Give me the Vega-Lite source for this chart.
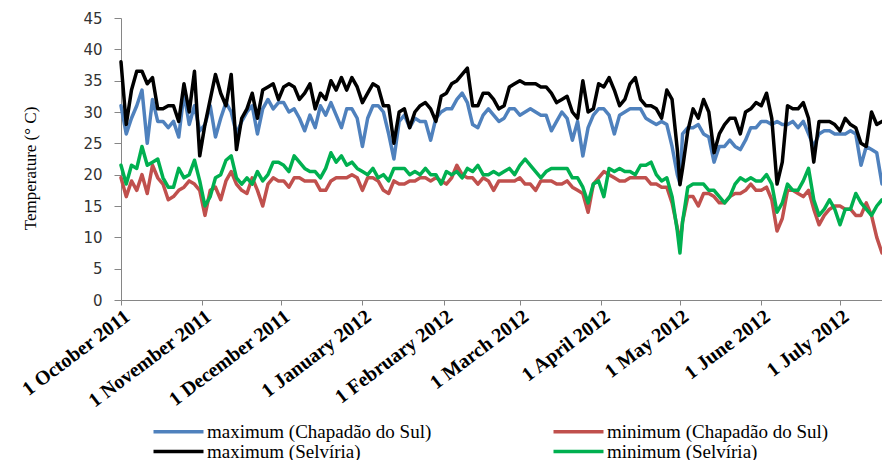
{
"$schema": "https://vega.github.io/schema/vega-lite/v6.json",
"width": 761, "height": 282,
"autosize": {"type": "none"},
"padding": {"left": 121, "top": 18, "right": 0, "bottom": 160},
"background": "white",
"config": {"view": {"stroke": null}},
"data": {"values": [
{"d":"2011-10-01","a":31,"b":19.5,"c":38,"e":21.5},
{"d":"2011-10-03","a":26.5,"b":16.5,"c":28,"e":18.5},
{"d":"2011-10-05","a":29,"b":19,"c":33.5,"e":21.5},
{"d":"2011-10-07","a":31,"b":17.5,"c":36.5,"e":21},
{"d":"2011-10-09","a":33.5,"b":20,"c":36.5,"e":24.5},
{"d":"2011-10-11","a":25,"b":17,"c":34.5,"e":21.5},
{"d":"2011-10-13","a":32,"b":21.5,"c":35.5,"e":22},
{"d":"2011-10-15","a":28.5,"b":19.5,"c":30.5,"e":22.5},
{"d":"2011-10-17","a":28.5,"b":18.5,"c":30.5,"e":19.5},
{"d":"2011-10-19","a":27.5,"b":16,"c":31,"e":18},
{"d":"2011-10-21","a":28.5,"b":16.5,"c":31,"e":18},
{"d":"2011-10-23","a":26,"b":17.5,"c":28.5,"e":21},
{"d":"2011-10-25","a":33,"b":18,"c":34.5,"e":19.5},
{"d":"2011-10-27","a":28,"b":19,"c":30,"e":20},
{"d":"2011-10-29","a":31,"b":18.5,"c":36.5,"e":22.3},
{"d":"2011-10-31","a":27,"b":17.5,"c":23,"e":19},
{"d":"2011-11-02","a":28,"b":13.5,"c":28,"e":15},
{"d":"2011-11-04","a":31,"b":17.5,"c":32,"e":16.5},
{"d":"2011-11-06","a":26,"b":18,"c":36,"e":19.5},
{"d":"2011-11-08","a":29,"b":16,"c":33,"e":20},
{"d":"2011-11-10","a":31.5,"b":19,"c":31,"e":22.3},
{"d":"2011-11-12","a":30,"b":20.5,"c":36,"e":23},
{"d":"2011-11-14","a":26.5,"b":18.5,"c":24,"e":19.5},
{"d":"2011-11-16","a":28.5,"b":17.5,"c":29,"e":18.5},
{"d":"2011-11-18","a":30,"b":17,"c":30.5,"e":19.5},
{"d":"2011-11-20","a":31,"b":19.5,"c":33,"e":18.5},
{"d":"2011-11-22","a":26.5,"b":17.5,"c":29,"e":20.5},
{"d":"2011-11-24","a":30.5,"b":15,"c":33.5,"e":19},
{"d":"2011-11-26","a":32,"b":18.5,"c":34,"e":20},
{"d":"2011-11-28","a":30.5,"b":19.5,"c":34.5,"e":22},
{"d":"2011-11-30","a":31.5,"b":19,"c":32,"e":22},
{"d":"2011-12-02","a":31.5,"b":19,"c":34,"e":21.5},
{"d":"2011-12-04","a":30,"b":18,"c":34.5,"e":20.5},
{"d":"2011-12-06","a":30.5,"b":19.5,"c":34,"e":23},
{"d":"2011-12-08","a":29,"b":19.5,"c":32,"e":22},
{"d":"2011-12-10","a":27,"b":19,"c":33,"e":21},
{"d":"2011-12-12","a":29.5,"b":19,"c":34.5,"e":20.5},
{"d":"2011-12-14","a":27.5,"b":19,"c":30.5,"e":20.5},
{"d":"2011-12-16","a":31,"b":17.5,"c":33,"e":19.5},
{"d":"2011-12-18","a":29.5,"b":17.5,"c":32,"e":21},
{"d":"2011-12-20","a":31.5,"b":19,"c":35,"e":23.5},
{"d":"2011-12-22","a":29.5,"b":19.5,"c":33.5,"e":22},
{"d":"2011-12-24","a":27.5,"b":19.5,"c":35.5,"e":23},
{"d":"2011-12-26","a":30.5,"b":19.5,"c":33.5,"e":21.5},
{"d":"2011-12-28","a":30.5,"b":20,"c":35.5,"e":22},
{"d":"2011-12-30","a":29,"b":19.5,"c":34,"e":21},
{"d":"2012-01-01","a":24.5,"b":17.5,"c":31.5,"e":20.5},
{"d":"2012-01-03","a":29,"b":19.5,"c":33,"e":20},
{"d":"2012-01-05","a":31,"b":19.5,"c":34.5,"e":21},
{"d":"2012-01-07","a":31,"b":19,"c":34,"e":19.5},
{"d":"2012-01-09","a":30,"b":17.5,"c":31,"e":20},
{"d":"2012-01-11","a":26.5,"b":17,"c":31,"e":19},
{"d":"2012-01-13","a":22.5,"b":19,"c":25,"e":21},
{"d":"2012-01-15","a":28.5,"b":18.5,"c":30,"e":21},
{"d":"2012-01-17","a":29.5,"b":18.5,"c":30.5,"e":21},
{"d":"2012-01-19","a":27.5,"b":19,"c":27.5,"e":20},
{"d":"2012-01-21","a":29,"b":19,"c":30,"e":20.5},
{"d":"2012-01-23","a":28.5,"b":19.5,"c":31,"e":20},
{"d":"2012-01-25","a":28.5,"b":19.5,"c":31.5,"e":21},
{"d":"2012-01-27","a":25.5,"b":19,"c":30.5,"e":20},
{"d":"2012-01-29","a":29,"b":19.5,"c":28.5,"e":20},
{"d":"2012-01-31","a":30,"b":19,"c":32.5,"e":18.5},
{"d":"2012-02-02","a":30.5,"b":18.5,"c":33,"e":20.5},
{"d":"2012-02-04","a":30.5,"b":19.5,"c":34.5,"e":20},
{"d":"2012-02-06","a":32,"b":21.5,"c":35,"e":20.5},
{"d":"2012-02-08","a":33,"b":20,"c":36,"e":19.5},
{"d":"2012-02-10","a":31.5,"b":19.5,"c":37,"e":21},
{"d":"2012-02-12","a":28,"b":19.5,"c":31,"e":20.5},
{"d":"2012-02-14","a":27.5,"b":18.5,"c":31,"e":21.5},
{"d":"2012-02-16","a":29.5,"b":19.5,"c":33,"e":20},
{"d":"2012-02-18","a":30.5,"b":19,"c":33,"e":20},
{"d":"2012-02-20","a":29.5,"b":17.5,"c":32,"e":20.5},
{"d":"2012-02-22","a":28.5,"b":19,"c":30.5,"e":20},
{"d":"2012-02-24","a":29,"b":19,"c":31,"e":20.5},
{"d":"2012-02-26","a":30.5,"b":19,"c":34,"e":21},
{"d":"2012-02-28","a":30.5,"b":19,"c":34.5,"e":20},
{"d":"2012-03-01","a":29.5,"b":19.5,"c":35,"e":21.5},
{"d":"2012-03-03","a":30,"b":18.5,"c":34.5,"e":22.5},
{"d":"2012-03-05","a":30.5,"b":18.5,"c":34.5,"e":21.5},
{"d":"2012-03-07","a":30,"b":17.5,"c":34.5,"e":20.5},
{"d":"2012-03-09","a":29.5,"b":19,"c":34,"e":19.5},
{"d":"2012-03-11","a":29.5,"b":19,"c":34,"e":20.5},
{"d":"2012-03-13","a":27,"b":19,"c":33,"e":21},
{"d":"2012-03-15","a":28.5,"b":18.5,"c":31.5,"e":21},
{"d":"2012-03-17","a":30,"b":18.5,"c":32,"e":21},
{"d":"2012-03-19","a":29,"b":19,"c":32.5,"e":21},
{"d":"2012-03-21","a":25.5,"b":18,"c":30,"e":19.5},
{"d":"2012-03-23","a":28.5,"b":17.5,"c":29,"e":19.5},
{"d":"2012-03-25","a":23,"b":17,"c":35,"e":18},
{"d":"2012-03-27","a":27.5,"b":14,"c":30,"e":15.5},
{"d":"2012-03-29","a":29.5,"b":18.5,"c":30.5,"e":18.5},
{"d":"2012-03-31","a":30.5,"b":19.5,"c":34.5,"e":19},
{"d":"2012-04-02","a":30.5,"b":20.5,"c":34,"e":16.5},
{"d":"2012-04-04","a":29.5,"b":20,"c":35.5,"e":21},
{"d":"2012-04-06","a":26.5,"b":19.5,"c":33.5,"e":20.5},
{"d":"2012-04-08","a":29.5,"b":19,"c":31,"e":21},
{"d":"2012-04-10","a":30,"b":19,"c":32,"e":20.5},
{"d":"2012-04-12","a":30.5,"b":19.5,"c":34.5,"e":20.5},
{"d":"2012-04-14","a":30.5,"b":19.5,"c":35.5,"e":20},
{"d":"2012-04-16","a":30.5,"b":19.5,"c":32,"e":21.5},
{"d":"2012-04-18","a":29,"b":19.5,"c":31,"e":21.5},
{"d":"2012-04-20","a":28.5,"b":18.5,"c":31,"e":22},
{"d":"2012-04-22","a":28,"b":18.5,"c":30.5,"e":20},
{"d":"2012-04-24","a":28.5,"b":18,"c":29,"e":19},
{"d":"2012-04-26","a":28,"b":18,"c":33.5,"e":19.5},
{"d":"2012-04-28","a":24.5,"b":15.5,"c":32,"e":16.5},
{"d":"2012-04-30","a":20,"b":11.5,"c":24,"e":11},
{"d":"2012-05-01","a":18.6,"b":9,"c":18.4,"e":7.5},
{"d":"2012-05-02","a":26.5,"b":12.5,"c":21,"e":12.5},
{"d":"2012-05-04","a":27.5,"b":16.5,"c":27,"e":18},
{"d":"2012-05-06","a":27.5,"b":16.5,"c":30.5,"e":18.5},
{"d":"2012-05-08","a":28,"b":15,"c":29,"e":18.5},
{"d":"2012-05-10","a":26.5,"b":17,"c":32,"e":18.5},
{"d":"2012-05-12","a":26,"b":17,"c":30,"e":17.5},
{"d":"2012-05-14","a":22,"b":16.5,"c":23.5,"e":17.5},
{"d":"2012-05-16","a":24.5,"b":15.5,"c":26.5,"e":16.5},
{"d":"2012-05-18","a":24.5,"b":15.5,"c":28,"e":15.5},
{"d":"2012-05-20","a":25.5,"b":16.5,"c":29,"e":16.5},
{"d":"2012-05-22","a":24.5,"b":17,"c":29,"e":18.5},
{"d":"2012-05-24","a":24,"b":17,"c":26.5,"e":19.5},
{"d":"2012-05-26","a":25.5,"b":17.5,"c":30,"e":19},
{"d":"2012-05-28","a":27.5,"b":18.5,"c":30.5,"e":19.5},
{"d":"2012-05-30","a":27.5,"b":17.5,"c":31.5,"e":19},
{"d":"2012-06-01","a":28.5,"b":17.5,"c":31,"e":19},
{"d":"2012-06-03","a":28.5,"b":18,"c":33,"e":20},
{"d":"2012-06-05","a":28,"b":16,"c":29,"e":18.5},
{"d":"2012-06-07","a":28.5,"b":11,"c":18.5,"e":14},
{"d":"2012-06-09","a":28,"b":13,"c":22,"e":15.5},
{"d":"2012-06-11","a":28,"b":17.5,"c":31,"e":18.5},
{"d":"2012-06-13","a":28.5,"b":17.5,"c":30.5,"e":17.5},
{"d":"2012-06-15","a":27.5,"b":17,"c":30.5,"e":17.5},
{"d":"2012-06-17","a":28.5,"b":16.5,"c":31.5,"e":19},
{"d":"2012-06-19","a":26.5,"b":17.5,"c":29,"e":21},
{"d":"2012-06-21","a":24.5,"b":14.5,"c":22,"e":16},
{"d":"2012-06-23","a":26.5,"b":12,"c":28.5,"e":13.5},
{"d":"2012-06-25","a":27,"b":13.5,"c":28.5,"e":14.5},
{"d":"2012-06-27","a":27,"b":14.5,"c":28.5,"e":16},
{"d":"2012-06-29","a":26.5,"b":15,"c":28,"e":14.5},
{"d":"2012-07-01","a":26.5,"b":15,"c":27,"e":12},
{"d":"2012-07-03","a":26.5,"b":14.5,"c":29,"e":14.5},
{"d":"2012-07-05","a":27,"b":14.5,"c":28,"e":14.5},
{"d":"2012-07-07","a":26.5,"b":13.5,"c":27.5,"e":17},
{"d":"2012-07-09","a":21.5,"b":13.5,"c":25,"e":15.5},
{"d":"2012-07-11","a":24.5,"b":15.5,"c":24.5,"e":14.5},
{"d":"2012-07-13","a":24,"b":13.5,"c":30,"e":13.5},
{"d":"2012-07-15","a":23.5,"b":10,"c":28,"e":15},
{"d":"2012-07-17","a":18.5,"b":7.5,"c":28.5,"e":16}
]},
"transform": [{"fold": ["a", "b", "c", "e"], "as": ["s", "v"]}],
"mark": {"type": "line", "strokeWidth": 3.5, "strokeJoin": "round", "strokeCap": "round"},
"encoding": {
  "x": {"field": "d", "type": "temporal",
    "scale": {"type": "utc", "nice": false},
    "axis": {"title": null, "labelExpr": "utcFormat(datum.value, '%-d %B %Y')",
      "tickCount": {"interval": "month", "step": 1},
      "labelAngle": -37, "labelFont": "Liberation Serif", "labelFontWeight": "bold", "labelFontSize": 20, "labelColor": "black",
      "labelOverlap": false, "labelPadding": 1, "labelFlush": false, "labelBound": false,
      "grid": false, "domainColor": "#868686", "tickColor": "#868686", "tickSize": 5}},
  "y": {"field": "v", "type": "quantitative",
    "scale": {"domain": [0, 45], "nice": false},
    "axis": {"title": "Temperature (° C)", "values": [0, 5, 10, 15, 20, 25, 30, 35, 40, 45],
      "titleFont": "Liberation Serif", "titleFontSize": 17, "titleFontWeight": "normal", "titleColor": "black",
      "titleX": -82, "titleY": 150, "titleAngle": -90, "titleBaseline": "bottom", "titleAlign": "center",
      "labelFont": "DejaVu Sans", "labelFontSize": 15, "labelColor": "#333333", "labelPadding": 12,
      "grid": false, "domainColor": "#868686", "tickColor": "#868686", "tickSize": 7}},
  "color": {"field": "s", "type": "nominal",
    "scale": {"domain": ["a", "b", "c", "e"], "range": ["#4F81BD", "#C0504D", "#000000", "#00B050"]},
    "legend": {"orient": "none", "legendX": 48, "legendY": 404, "direction": "horizontal", "columns": 2,
      "title": null, "padding": 0, "symbolType": "M-10,0H10", "symbolSize": 25, "symbolStrokeWidth": 3.5,
      "labelFont": "Liberation Serif", "labelFontSize": 19, "labelColor": "black", "labelOffset": 19, "labelLimit": 400,
      "columnPadding": 114, "rowPadding": -1,
      "labelExpr": "datum.label == 'a' ? 'maximum (Chapadão do Sul)' : datum.label == 'b' ? 'minimum (Chapadão do Sul)' : datum.label == 'c' ? 'maximum (Selvíria)' : 'minimum (Selvíria)'"}}
}
}
